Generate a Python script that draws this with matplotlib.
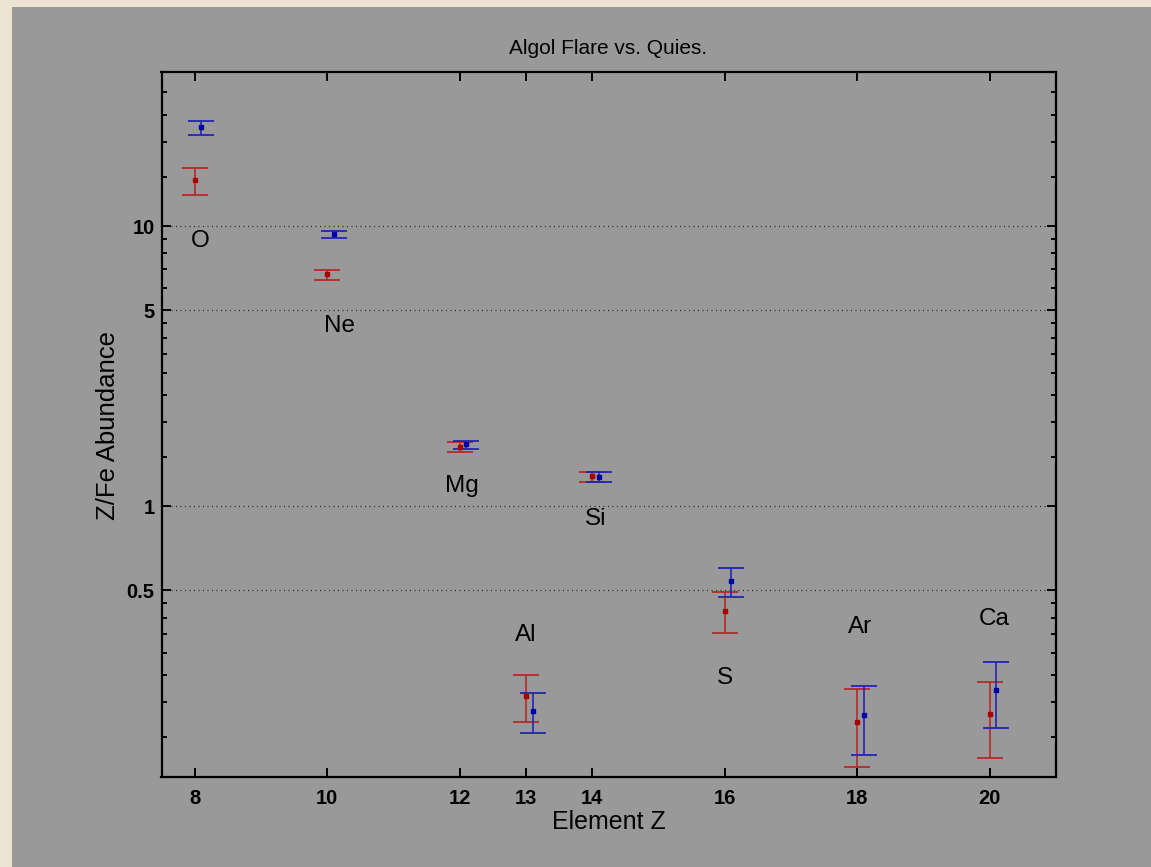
import numpy as np
import matplotlib
matplotlib.use("Agg")
import matplotlib.pyplot as plt
from matplotlib.patches import Rectangle
from matplotlib.ticker import FixedLocator, NullFormatter

# Z/Fe abundance ratios per element, flare (red) and quiescent (blue)
elements = ["O", "Ne", "Mg", "Al", "Si", "S", "Ar", "Ca"]
z_number = [8, 10, 12, 13, 14, 16, 18, 20]

flare = [14.56, 6.72, 1.633, 0.2097, 1.28, 0.4238, 0.1693, 0.1807]
flare_lo = [12.93, 6.40, 1.559, 0.1693, 1.221, 0.3527, 0.1169, 0.1265]
flare_hi = [16.15, 6.98, 1.701, 0.249, 1.329, 0.4955, 0.2232, 0.2358]

quies = [22.5, 9.34, 1.665, 0.1862, 1.269, 0.5409, 0.1793, 0.2203]
quies_lo = [21.14, 9.06, 1.598, 0.1554, 1.221, 0.4732, 0.1297, 0.1615]
quies_hi = [23.77, 9.57, 1.714, 0.2159, 1.322, 0.6035, 0.2282, 0.2787]

y_major = [0.5, 1, 5, 10]
y_major_labels = ["0.5", "1", "5", "10"]
y_minor = [0.15, 0.2, 0.25, 0.3, 0.35, 0.4, 0.45,
           1.5, 2, 2.5, 3, 3.5, 4, 4.5,
           6, 7, 8, 9,
           15, 20, 25, 30]

# where each element name sits (data coords)
label_pos = [(8.09, 8.84), (10.19, 4.39), (12.04, 1.18), (13.0, 0.347),
             (14.05, 0.901), (16.0, 0.2432), (18.04, 0.371), (20.07, 0.396)]

W, H = 1151, 867
fig = plt.figure(figsize=(W / 100, H / 100), dpi=100)
fig.patch.set_facecolor("#ede3d2")

# gray panel behind the plot
bg = fig.add_axes([0, 0, 1, 1], zorder=-5)
bg.set_axis_off()
bg.set_xlim(0, W)
bg.set_ylim(H, 0)
bg.add_patch(Rectangle((12, 7), W, H, facecolor="#999999", edgecolor="none"))

ax = fig.add_axes([161.5 / W, 1 - 777 / H, (1056 - 161.5) / W, (777 - 72) / H])
ax.set_facecolor("#999999")
ax.set_yscale("log")
ax.set_xlim(7.5, 21)
ax.set_ylim(0.1079, 35.5)

z = np.array(z_number, dtype=float)


def draw_set(x, val, lo, hi, line_c, dot_c):
    val, lo, hi = map(np.asarray, (val, lo, hi))
    ax.errorbar(x, val, yerr=[val - lo, hi - val], fmt="none", ecolor=line_c,
                elinewidth=1.2, capsize=9.1, capthick=1.3, zorder=3)
    ax.plot(x, val, "s", ms=2.8, color=dot_c, mec=dot_c, zorder=4)


draw_set(z, flare, flare_lo, flare_hi, "#b52a2a", "#a80000")
draw_set(z + 0.1, quies, quies_lo, quies_hi, "#2424b4", "#0000a8")

for name, (lx, ly) in zip(elements, label_pos):
    ax.text(lx, ly, name, ha="center", va="center", fontsize=17.5,
            family="Liberation Sans", color="black")

# axes styling
ax.xaxis.set_major_locator(FixedLocator(z_number))
ax.set_xticklabels([str(v) for v in z_number])
ax.yaxis.set_major_locator(FixedLocator(y_major))
ax.set_yticklabels(y_major_labels)
ax.yaxis.set_minor_locator(FixedLocator(y_minor))
ax.yaxis.set_minor_formatter(NullFormatter())
ax.xaxis.set_minor_locator(FixedLocator([]))

ax.tick_params(axis="both", which="major", direction="in", length=6.5, width=1.4,
               labelsize=14.5, colors="black", top=True, right=True)
ax.tick_params(axis="x", which="major", pad=9)
ax.tick_params(axis="y", which="major", pad=5)
ax.tick_params(axis="y", which="minor", direction="in", length=3.6, width=1.4,
               right=True)
for lab in ax.get_xticklabels() + ax.get_yticklabels():
    lab.set_family("Liberation Sans")
    lab.set_fontweight("bold")

for sp in ax.spines.values():
    sp.set_linewidth(1.6)
    sp.set_color("black")

for yv in y_major:
    ax.axhline(yv, color="#222222", lw=0.9, ls=(0, (0.8, 2.8)), zorder=1)

fig.text(608.5 / W, 1 - 48 / H, "Algol Flare vs. Quies.", ha="center", va="center",
         fontsize=15, family="Liberation Sans")
fig.text(608.5 / W, 1 - 822 / H, "Element Z", ha="center", va="center",
         fontsize=18, family="Liberation Sans")
fig.text(108 / W, 1 - 425 / H, "Z/Fe Abundance", ha="center", va="center",
         rotation=90, fontsize=18.5, family="Liberation Sans")

fig.savefig("out.png", dpi=100, facecolor=fig.get_facecolor())
